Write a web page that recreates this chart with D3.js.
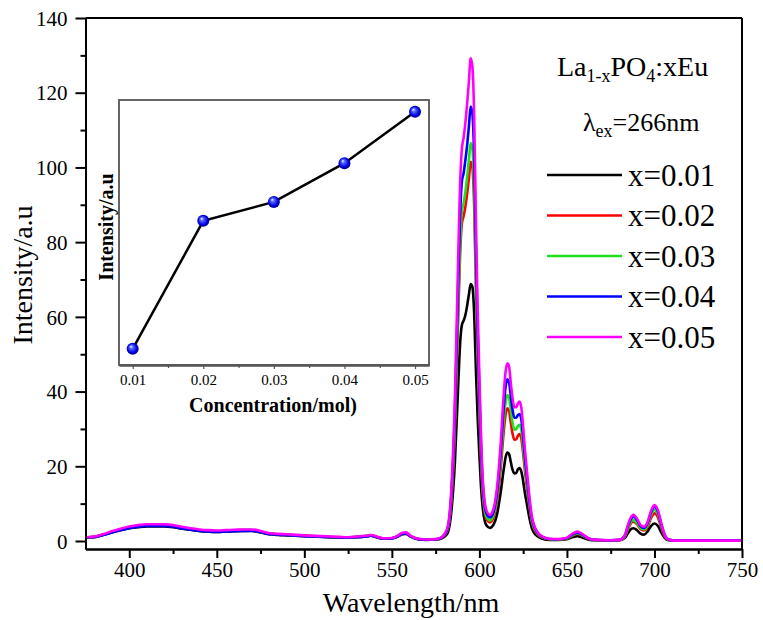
<!DOCTYPE html>
<html><head><meta charset="utf-8">
<script src="https://cdn.jsdelivr.net/npm/d3@7"></script>
<style>
body{margin:0;background:#fff;}
text{font-family:"Liberation Serif","Times New Roman",serif;}
</style></head>
<body><svg id="c" width="763" height="620"></svg>
<script>
const wavelengths = [375,380,385,390,395,400,405,410,415,420,425,430,435,440,445,450,455,460,465,470,475,480,485,490,500,510,520,525,530,535,538,542,546,550,553,556,558,561,565,570,575,578,580,582,584,586,588,589,590,591,592,593,594,595,596,597,598,599,600,601,602,603,604,606,608,610,612,614,615,616,617,618,619,620,621,622,623,624,625,626,627,628,629,630,631,633,636,640,645,650,653,656,659,663,668,675,680,683,685,687,688,690,692,694,696,698,700,702,704,706,708,712,720,750];
const x001 = [0.9,1.0,1.6,2.3,2.9,3.4,3.7,3.9,3.9,3.9,3.7,3.3,3.0,2.7,2.5,2.4,2.5,2.6,2.7,2.7,2.3,1.8,1.6,1.5,1.3,1.1,0.9,0.9,1.0,1.2,1.4,0.9,0.6,0.7,1.1,1.8,1.9,1.1,0.5,0.3,0.4,0.6,1.1,2.3,8,21,43,53,57.8,59,60.5,63,66,68.8,68,61,46,33,23,14,8.5,5.5,4.2,3.5,4.3,7,12.5,19.5,22.5,23.7,23.2,21,19,18.1,18.2,19.2,19.5,18.5,16,12.8,10.2,7.6,5.2,3.4,2.4,1.3,0.6,0.3,0.3,0.5,1.0,1.3,0.9,0.3,0.2,0.1,0.2,0.8,2.2,3.3,3.4,2.9,2.0,1.7,2.5,4.0,4.7,4.0,2.2,0.8,0.2,0.1,0.1,0.1];
const x002 = [0.95,1.1,1.7,2.4,3.1,3.7,4.0,4.2,4.2,4.2,4.0,3.6,3.2,2.9,2.7,2.6,2.7,2.8,2.9,2.9,2.5,2.0,1.8,1.7,1.4,1.2,1.0,0.95,1.1,1.3,1.5,1.0,0.65,0.75,1.2,2.0,2.1,1.2,0.55,0.4,0.45,0.75,1.5,3.2,11,30,62,77,85,87,89.5,93,97,101.5,100,90,68,49,34.5,21,12,7.7,5.9,5.0,6.2,10.4,18.6,29.8,34,35.5,34.7,31.5,28.6,27.1,27.2,28.2,28.6,27.2,23.4,18.8,15,11.1,7.7,5,3.5,1.9,0.9,0.45,0.4,0.7,1.4,1.9,1.4,0.45,0.2,0.15,0.2,1.1,3.3,5.0,5.2,4.5,3.2,2.8,3.7,6.1,7.4,6.3,3.4,1.1,0.3,0.1,0.1,0.1];
const x003 = [0.95,1.1,1.7,2.4,3.1,3.7,4.1,4.3,4.3,4.3,4.1,3.6,3.2,2.9,2.7,2.6,2.7,2.8,2.9,2.9,2.5,2.0,1.8,1.7,1.4,1.2,1.0,0.95,1.1,1.3,1.5,1.0,0.65,0.75,1.2,2.0,2.1,1.2,0.55,0.4,0.45,0.8,1.55,3.4,11.7,31.5,65,80,88.2,90.5,93.5,97.5,102,106.5,105,94.5,71.5,51.5,36.5,22.5,13,8.5,6.5,5.5,6.9,11.5,20.5,32.8,37.3,39.1,38.2,34.7,31.5,29.8,29.9,30.8,31.1,29.6,25.4,20.4,16.3,12.1,8.4,5.4,3.8,2.1,1.0,0.5,0.4,0.7,1.5,2.0,1.45,0.5,0.25,0.15,0.25,1.2,3.6,5.4,5.6,4.8,3.5,3.1,4.2,6.9,8.3,7.1,3.9,1.3,0.35,0.1,0.1,0.1];
const x004 = [0.9,1.05,1.6,2.3,2.9,3.4,3.8,4.0,4.0,4.0,3.8,3.35,3.0,2.7,2.55,2.45,2.55,2.65,2.7,2.75,2.4,1.85,1.7,1.6,1.3,1.15,0.95,0.9,1.05,1.25,1.4,0.95,0.6,0.7,1.15,1.95,2.0,1.15,0.5,0.35,0.45,0.8,1.65,3.6,12.7,34.5,71,87.5,96.2,98.5,102,106,111,116.3,114.5,103,78,56,40,24.5,14.5,9.5,7.4,6.3,7.7,12.7,22.7,36.4,41.4,43.3,42.3,38.5,34.9,33.0,33.0,33.7,34.0,32.4,27.8,22.3,17.8,13.2,9.1,5.9,4.2,2.3,1.1,0.55,0.45,0.8,1.7,2.25,1.6,0.55,0.25,0.2,0.3,1.4,4.2,6.2,6.5,5.6,4.0,3.5,4.7,7.6,9.2,7.8,4.3,1.4,0.4,0.1,0.1,0.1];
const x005 = [1.0,1.2,1.8,2.6,3.3,3.9,4.3,4.5,4.5,4.5,4.3,3.8,3.4,3.1,2.9,2.8,2.9,3.0,3.1,3.1,2.7,2.1,1.9,1.8,1.5,1.3,1.1,1.0,1.2,1.4,1.6,1.1,0.7,0.8,1.3,2.2,2.3,1.3,0.6,0.4,0.5,0.9,1.8,4,14,38,78,96,105,108,112,117,123,129.2,127,114,86,62,44,27,16,10.5,8.2,7.0,8.5,14,25,40,45.5,47.6,46.5,42,38,35.8,35.8,36.8,37.3,35.5,30.5,24.5,19.5,14.5,10,6.5,4.6,2.5,1.2,0.6,0.5,0.9,1.9,2.5,1.8,0.6,0.3,0.2,0.3,1.5,4.5,6.7,7.0,6.0,4.3,3.8,5.0,8.0,9.6,8.2,4.5,1.5,0.4,0.1,0.1,0.1];
const seriesNames = ["x=0.01","x=0.02","x=0.03","x=0.04","x=0.05"];
const seriesColors = ["#000000","#ff0000","#1ee01e","#0000ff","#ff00ff"];
const xTicks = [400,450,500,550,600,650,700,750];
const xMinor = [425,475,525,575,625,675,725];
const yTicks = [0,20,40,60,80,100,120,140];
const yMinor = [10,30,50,70,90,110,130];
const insetConc = [0.01,0.02,0.03,0.04,0.05];
const insetIntensity = [69,101.4,106.2,116,129];
const insetTickLabels = ["0.01","0.02","0.03","0.04","0.05"];
const insetMinor = [0.015,0.025,0.035,0.045];

const svg = d3.select("#c");
const x = d3.scaleLinear().domain([375,750]).range([85.5,742]);
const y = d3.scaleLinear().domain([-2.14,140]).range([549,18]);

const defs = svg.append("defs");
defs.append("clipPath").attr("id","clip").append("rect")
  .attr("x",85.5).attr("y",18).attr("width",742-85.5).attr("height",549-18);
const grad = defs.append("radialGradient").attr("id","ball").attr("cx","0.5").attr("cy","0.5").attr("r","0.55").attr("fx","0.35").attr("fy","0.3");
grad.append("stop").attr("offset","0").attr("stop-color","#ffffff");
grad.append("stop").attr("offset","0.25").attr("stop-color","#5a6cff");
grad.append("stop").attr("offset","0.7").attr("stop-color","#0000e0");
grad.append("stop").attr("offset","1").attr("stop-color","#00007a");

// spectra
const series = [x001,x002,x003,x004,x005];
const line = d3.line().x((d,i)=>x(wavelengths[i])).y(d=>y(d)).curve(d3.curveMonotoneX);
const g = svg.append("g").attr("clip-path","url(#clip)");
series.forEach((s,k)=>{
  g.append("path").attr("d",line(s)).attr("fill","none")
   .attr("stroke",seriesColors[k]).attr("stroke-width",2.6).attr("stroke-linejoin","round");
});

// axes
const axB = svg.append("g").attr("transform","translate(0,549)")
  .call(d3.axisBottom(x).tickValues(xTicks).tickSize(9).tickSizeOuter(0).tickPadding(4));
svg.append("g").attr("transform","translate(0,549)")
  .call(d3.axisBottom(x).tickValues(xMinor).tickSize(5).tickSizeOuter(0).tickFormat(""));
const axL = svg.append("g").attr("transform","translate(85.5,0)")
  .call(d3.axisLeft(y).tickValues(yTicks).tickSize(10).tickSizeOuter(0).tickPadding(8));
svg.append("g").attr("transform","translate(85.5,0)")
  .call(d3.axisLeft(y).tickValues(yMinor).tickSize(5).tickSizeOuter(0).tickFormat(""));
svg.selectAll(".domain, .tick line").attr("stroke","#000").attr("stroke-width",2);
axB.selectAll("text").attr("font-size",21).attr("font-family","Liberation Serif").attr("fill","#000");
axL.selectAll("text").attr("font-size",21).attr("font-family","Liberation Serif").attr("fill","#000").attr("dy","0.34em");
// top/right borders
svg.append("line").attr("x1",85.5).attr("x2",742).attr("y1",18).attr("y2",18).attr("stroke","#000").attr("stroke-width",2);
svg.append("line").attr("x1",742).attr("x2",742).attr("y1",18).attr("y2",549).attr("stroke","#000").attr("stroke-width",2);

// axis titles
svg.append("text").attr("x",411).attr("y",612).attr("text-anchor","middle").attr("font-size",28).text("Wavelength/nm");
svg.append("text").attr("transform","translate(32,275) rotate(-90)").attr("text-anchor","middle").attr("font-size",28).text("Intensity/a.u");

// legend header
const t1 = svg.append("text").attr("x",557).attr("y",76).attr("font-size",28);
t1.append("tspan").text("La");
t1.append("tspan").attr("font-size",18).attr("dy",6).text("1-x");
t1.append("tspan").attr("dy",-6).text("PO");
t1.append("tspan").attr("font-size",18).attr("dy",6).text("4");
t1.append("tspan").attr("dy",-6).text(":xEu");
const t2 = svg.append("text").attr("x",583).attr("y",131).attr("font-size",26);
t2.append("tspan").text("\u03bb");
t2.append("tspan").attr("font-size",18).attr("dy",6).text("ex");
t2.append("tspan").attr("dy",-6).text("=266nm");

// legend entries
const ly = d3.scalePoint().domain(seriesNames).range([175,337]);
seriesNames.forEach((n,k)=>{
  svg.append("line").attr("x1",547).attr("x2",622).attr("y1",ly(n)).attr("y2",ly(n))
    .attr("stroke",seriesColors[k]).attr("stroke-width",2.6);
  svg.append("text").attr("x",628).attr("y",ly(n)+10.5).attr("font-size",31).text(n);
});

// inset
const ix = d3.scaleLinear().domain([0.00806,0.05198]).range([119,429]);
const iy = d3.scaleLinear().domain([64.9,132]).range([365,100]);
const inset = svg.append("g");
inset.append("rect").attr("x",119).attr("y",100).attr("width",310).attr("height",265)
  .attr("fill","#fff").attr("stroke","#555").attr("stroke-width",1.8);
const iax = inset.append("g").attr("transform","translate(0,365)")
  .call(d3.axisBottom(ix).tickValues(insetConc).tickSize(4).tickSizeOuter(0).tickPadding(5).tickFormat((d,i)=>insetTickLabels[i]));
inset.append("g").attr("transform","translate(0,365)")
  .call(d3.axisBottom(ix).tickValues(insetMinor).tickSize(3).tickSizeOuter(0).tickFormat(""));
inset.selectAll(".domain").attr("stroke","#555").attr("stroke-width",1.8);
inset.selectAll(".tick line").attr("stroke","#555").attr("stroke-width",1.2);
iax.selectAll("text").attr("font-size",15).attr("font-family","Liberation Serif").attr("fill","#000");
inset.append("path").datum(insetIntensity)
  .attr("d",d3.line().x((d,i)=>ix(insetConc[i])).y(d=>iy(d)))
  .attr("fill","none").attr("stroke","#000").attr("stroke-width",2.5);
inset.selectAll("circle").data(insetIntensity).join("circle")
  .attr("cx",(d,i)=>ix(insetConc[i])).attr("cy",d=>iy(d)).attr("r",6)
  .attr("fill","url(#ball)");
inset.append("text").attr("x",273).attr("y",412).attr("text-anchor","middle")
  .attr("font-size",20).attr("font-weight","bold").text("Concentration/mol)");
inset.append("text").attr("transform","translate(113,227) rotate(-90)").attr("text-anchor","middle")
  .attr("font-size",20).attr("font-weight","bold").text("Intensity/a.u");
</script></body></html>
